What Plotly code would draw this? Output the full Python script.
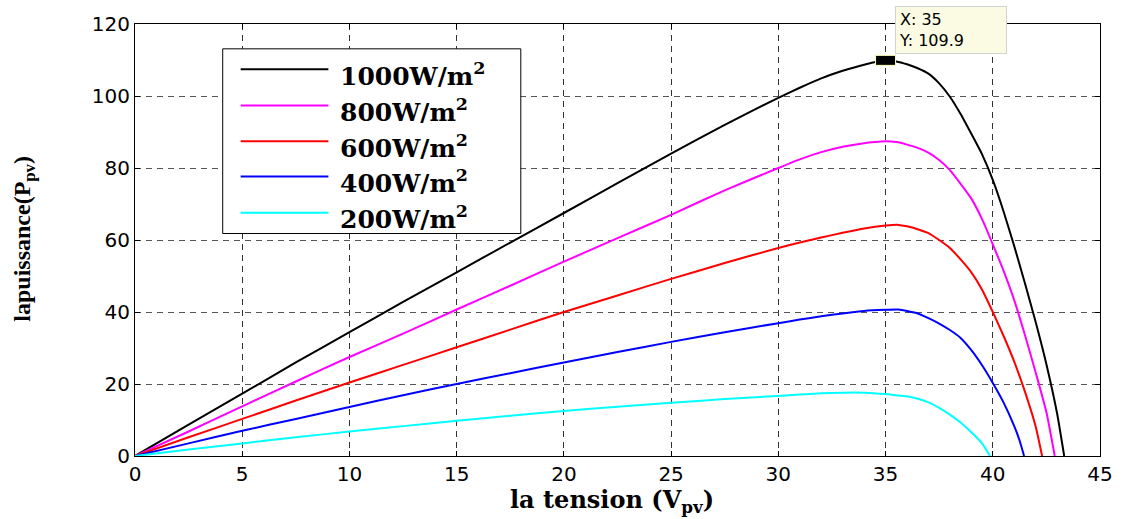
import plotly.graph_objects as go

# PV power vs. voltage for several irradiance levels
irradiance_labels = ["1000W/m<sup>2</sup>", "800W/m<sup>2</sup>", "600W/m<sup>2</sup>",
                     "400W/m<sup>2</sup>", "200W/m<sup>2</sup>"]
line_colors = ["#000000", "#ff00ff", "#ff0000", "#0000ff", "#00ffff"]

v_1000 = [0, 2.5, 5, 7.5, 10, 12.5, 15, 17.5, 20, 22.5, 25, 27.5, 30, 31, 32, 33, 34, 35, 35.5,
          36, 36.5, 37, 37.5, 38, 38.5, 39, 39.5, 40, 40.5, 41, 41.5, 42, 42.5, 43, 43.33]
p_1000 = [0, 8.7, 17.3, 26, 34.4, 42.8, 51, 59.3, 67.5, 75.8, 84, 92, 99.5, 102.3, 104.9, 107, 108.7, 109.9, 109.6,
          108.8, 107.7, 106.2, 103.5, 99.8, 95, 89.5, 83.8, 76.7, 68, 58.3, 48, 37.2, 25.5, 11.8, 0]

v_800 = [0, 2.5, 5, 7.5, 10, 12.5, 15, 17.5, 20, 22.5, 25, 27.5, 30, 31, 32, 33, 34, 34.5, 35, 35.5,
         36, 36.5, 37, 37.5, 38, 38.5, 39, 39.5, 40, 40.5, 41, 41.5, 42, 42.5, 42.89]
p_800 = [0, 6.8, 13.8, 20.7, 27.5, 34, 40.7, 47.3, 54, 60.5, 67, 73.8, 80, 82.4, 84.4, 85.9, 86.9, 87.2, 87.4, 87.2,
         86.5, 85.6, 84.3, 82.2, 79.4, 75.6, 71.5, 65.8, 58.8, 51.5, 43.3, 33.6, 23.2, 12.2, 0]

v_600 = [0, 2.5, 5, 7.5, 10, 12.5, 15, 17.5, 20, 22.5, 25, 27.5, 30, 31, 32, 33, 34, 35, 35.6,
         36, 36.5, 37, 37.5, 38, 38.5, 39, 39.5, 40, 40.5, 41, 41.5, 42, 42.3]
p_600 = [0, 5.2, 10.3, 15.4, 20.4, 25.3, 30.2, 35.1, 40, 44.6, 49.2, 53.6, 57.8, 59.3, 60.7, 62, 63.2, 64, 64.2,
         63.8, 63, 61.9, 60, 57.8, 54.6, 51, 46.2, 40, 33.4, 26.2, 17.9, 8.2, 0]

v_400 = [0, 2.5, 5, 7.5, 10, 12.5, 15, 17.5, 20, 22.5, 25, 27.5, 30, 31, 32, 33, 34, 35, 35.6,
         36.5, 37, 37.5, 38, 38.5, 39, 39.5, 40, 40.5, 41, 41.25, 41.46]
p_400 = [0, 3.5, 7, 10.3, 13.6, 16.9, 20, 23, 26, 28.9, 31.7, 34.4, 36.9, 37.9, 38.8, 39.6, 40.3, 40.6, 40.7,
         39.6, 38.3, 36.8, 35, 32.8, 29.4, 25.2, 20.3, 14.9, 8.3, 4.3, 0]

v_200 = [0, 2.5, 5, 7.5, 10, 12.5, 15, 17.5, 20, 22.5, 25, 27.5, 30, 31, 32, 33, 34, 35,
         35.6, 36, 36.5, 37, 37.5, 38, 38.5, 39, 39.5, 39.87]
p_200 = [0, 1.8, 3.5, 5.2, 6.8, 8.3, 9.8, 11.2, 12.5, 13.7, 14.8, 15.8, 16.7, 17.1, 17.4, 17.6, 17.6, 17.2,
         16.8, 16.6, 15.9, 14.9, 13.4, 11.5, 9.3, 6.6, 3.5, 0]

series_v = [v_1000, v_800, v_600, v_400, v_200]
series_p = [p_1000, p_800, p_600, p_400, p_200]

x_ticks = [0, 5, 10, 15, 20, 25, 30, 35, 40, 45]
y_ticks = [0, 20, 40, 60, 80, 100, 120]

# data cursor on the maximum power point of the 1000 W/m2 curve
peak_idx = p_1000.index(max(p_1000))
peak_v, peak_p = v_1000[peak_idx], p_1000[peak_idx]

fig = go.Figure()
for v, p, name, color in zip(series_v, series_p, irradiance_labels, line_colors):
    fig.add_trace(go.Scatter(x=v, y=p, mode="lines", name=name,
                             line=dict(color=color, width=2, shape="spline", smoothing=0.5),
                             showlegend=False))

tick_font = dict(family="DejaVu Sans", size=20, color="black")
axis_common = dict(showline=True, linecolor="black", linewidth=1, mirror="ticks",
                   ticks="inside", ticklen=5, tickcolor="black", zeroline=False,
                   showgrid=True, griddash="6px,5px", gridwidth=1, tickfont=tick_font)

fig.update_xaxes(range=[0, 45], tickvals=x_ticks, gridcolor="#333333", **axis_common)
fig.update_yaxes(range=[0, 120], tickvals=y_ticks, gridcolor="#555555", **axis_common)

shapes = []
annotations = []

# legend box with long line samples
box_x0, box_x1, box_y0, box_y1 = 0.0909, 0.3998, 0.515, 0.9425
shapes.append(dict(type="rect", xref="paper", yref="paper", x0=box_x0, x1=box_x1,
                   y0=box_y0, y1=box_y1, fillcolor="white",
                   line=dict(color="black", width=1), layer="above"))
row_y = [0.895, 0.8115, 0.7287, 0.6471, 0.5632]
for ry, name, color in zip(row_y, irradiance_labels, line_colors):
    shapes.append(dict(type="line", xref="paper", yref="paper", x0=0.1095, x1=0.2004,
                       y0=ry, y1=ry, line=dict(color=color, width=2), layer="above"))
    annotations.append(dict(xref="paper", yref="paper", x=0.2107, y=ry - 0.012,
                            xanchor="left", yanchor="middle", showarrow=False,
                            text="<b>" + name + "</b>",
                            font=dict(family="DejaVu Serif", size=25, color="black")))

# data cursor marker and its label
shapes.append(dict(type="rect", xref="x", yref="y", xsizemode="pixel", ysizemode="pixel",
                   xanchor=peak_v, yanchor=peak_p, x0=-10, x1=10, y0=-5, y1=5,
                   fillcolor="black", line=dict(color="#ffffc0", width=1), layer="above"))
annotations.append(dict(xref="x", yref="y", x=peak_v, y=peak_p, xanchor="left", yanchor="bottom",
                        xshift=9, yshift=6, showarrow=False, align="left",
                        text=f"X: {peak_v:g}<br>Y: {peak_p:g}",
                        font=dict(family="DejaVu Sans", size=16, color="black"),
                        bgcolor="#fbfbe4", bordercolor="#d2d2d2", borderwidth=1,
                        borderpad=3, width=104))

# axis titles
annotations.append(dict(xref="paper", yref="paper", x=0.494, y=-0.105, xanchor="center",
                        yanchor="middle", showarrow=False,
                        text="<b>la tension (V<sub>pv</sub>)</b>",
                        font=dict(family="DejaVu Serif", size=24, color="black")))
annotations.append(dict(xref="paper", yref="paper", x=-0.115, y=0.503, xanchor="center",
                        yanchor="middle", showarrow=False, textangle=-90,
                        text="<b>lapuissance(P<sub>pv</sub>)</b>",
                        font=dict(family="Liberation Serif", size=24, color="black")))

fig.update_layout(width=1125, height=519, margin=dict(l=135, r=22, t=21, b=63),
                  paper_bgcolor="white", plot_bgcolor="white",
                  shapes=shapes, annotations=annotations, showlegend=False)

fig.write_html("out.html")
